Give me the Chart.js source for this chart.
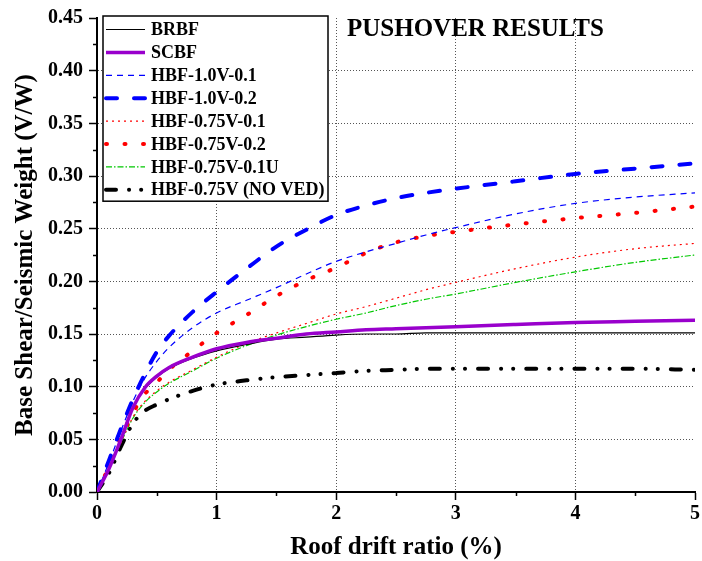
<!DOCTYPE html>
<html>
<head>
<meta charset="utf-8">
<script src="https://cdn.jsdelivr.net/npm/chart.js@4/dist/chart.umd.min.js"></script>
<style>
body { margin: 0; background: #fff; }
</style>
</head>
<body>
<canvas id="Chart1" width="702" height="561"></canvas>
<script>
const drift = [0, 0.1, 0.2, 0.3, 0.4, 0.5, 0.6, 0.8, 1.0, 1.25, 1.5, 1.75, 2, 2.25, 2.5, 2.75, 3, 3.5, 4, 4.5, 5];

// base shear / seismic weight
const brbf        = [0, 0.022, 0.050, 0.080, 0.098, 0.109, 0.117, 0.127, 0.134, 0.140, 0.145, 0.147, 0.149, 0.150, 0.150, 0.151, 0.151, 0.151, 0.151, 0.151, 0.151];
const scbf        = [0, 0.022, 0.050, 0.080, 0.099, 0.110, 0.118, 0.128, 0.136, 0.142, 0.146, 0.150, 0.152, 0.154, 0.155, 0.156, 0.157, 0.159, 0.161, 0.162, 0.163];
const hbf10_01    = [0, 0.028, 0.058, 0.086, 0.108, 0.124, 0.137, 0.156, 0.170, 0.182, 0.194, 0.207, 0.219, 0.228, 0.236, 0.244, 0.251, 0.264, 0.274, 0.280, 0.284];
const hbf10_02    = [0, 0.030, 0.060, 0.088, 0.112, 0.133, 0.148, 0.171, 0.190, 0.212, 0.233, 0.249, 0.263, 0.272, 0.279, 0.284, 0.288, 0.295, 0.302, 0.307, 0.312];
const hbf075_01   = [0, 0.022, 0.047, 0.071, 0.086, 0.096, 0.104, 0.116, 0.128, 0.141, 0.151, 0.160, 0.169, 0.176, 0.184, 0.192, 0.199, 0.212, 0.223, 0.231, 0.236];
const hbf075_02   = [0, 0.024, 0.052, 0.075, 0.093, 0.104, 0.116, 0.134, 0.151, 0.168, 0.186, 0.201, 0.213, 0.227, 0.237, 0.243, 0.247, 0.254, 0.260, 0.265, 0.271];
const hbf075_01u  = [0, 0.022, 0.047, 0.070, 0.085, 0.095, 0.103, 0.115, 0.127, 0.139, 0.149, 0.157, 0.164, 0.170, 0.177, 0.183, 0.188, 0.199, 0.209, 0.218, 0.225];
const hbf075_noved = [0, 0.018, 0.043, 0.065, 0.077, 0.083, 0.088, 0.096, 0.102, 0.106, 0.109, 0.111, 0.113, 0.115, 0.116, 0.117, 0.117, 0.117, 0.117, 0.117, 0.116];

const labels = ['BRBF', 'SCBF', 'HBF-1.0V-0.1', 'HBF-1.0V-0.2', 'HBF-0.75V-0.1', 'HBF-0.75V-0.2', 'HBF-0.75V-0.1U', 'HBF-0.75V (NO VED)'];
const x_minor = [0.5, 1.5, 2.5, 3.5, 4.5];
const y_minor = [0.025, 0.075, 0.125, 0.175, 0.225, 0.275, 0.325, 0.375, 0.425];
const chart_title = 'PUSHOVER RESULTS';

const serif = "'Liberation Serif', 'Times New Roman', serif";

function pts(values) {
    return values.map((v, i) => ({x: drift[i], y: v}));
}

function line(label, values, color, width, dash, cap) {
    return {
        label: label,
        data: pts(values),
        borderColor: color,
        backgroundColor: color,
        borderWidth: width,
        borderDash: dash,
        borderCapStyle: cap || 'butt',
        pointRadius: 0,
        fill: false,
        cubicInterpolationMode: 'monotone'
    };
}

let datasets = [
    line(labels[0], brbf, '#000000', 1.2, []),
    line(labels[1], scbf, '#9900cc', 3.5, []),
    line(labels[2], hbf10_01, '#0000ff', 1.2, [6, 5]),
    line(labels[3], hbf10_02, '#0000ff', 4, [11, 17], 'round'),
    line(labels[4], hbf075_01, '#ff0000', 1.2, [2, 4]),
    line(labels[5], hbf075_02, '#ff0000', 4, [1, 17.5], 'round'),
    line(labels[6], hbf075_01u, '#00c800', 1.2, [6, 2, 1.5, 2]),
    line(labels[7], hbf075_noved, '#000000', 4, [10, 13, 0.1, 12, 0.1, 13], 'round')
];
datasets[1].order = -1;

// legend box inside the plot, title text and minor ticks
const extras = {
    id: 'extras',
    afterDatasetsDraw(chart) {
        const ctx = chart.ctx;
        const area = chart.chartArea;
        const xs = chart.scales.x, ys = chart.scales.y;

        // minor ticks
        ctx.save();
        ctx.strokeStyle = '#000';
        ctx.lineWidth = 1.5;
        ctx.beginPath();
        x_minor.forEach(v => {
            let px = Math.round(xs.getPixelForValue(v)) + 0.5;
            ctx.moveTo(px, ys.bottom);
            ctx.lineTo(px, ys.bottom + 4);
        });
        y_minor.forEach(v => {
            let py = Math.round(ys.getPixelForValue(v)) + 0.5;
            ctx.moveTo(xs.left, py);
            ctx.lineTo(xs.left - 4, py);
        });
        ctx.stroke();
        ctx.restore();

        // legend
        const left = area.left + 6, top = area.top - 2;
        const rowH = 22.9, w = 225, h = 8 * rowH + 2;
        ctx.save();
        ctx.fillStyle = '#fff';
        ctx.fillRect(left, top, w, h);
        ctx.strokeStyle = '#000';
        ctx.lineWidth = 1.5;
        ctx.strokeRect(left, top, w, h);
        ctx.font = 'bold 18px ' + serif;
        ctx.textBaseline = 'middle';
        ctx.textAlign = 'left';
        chart.data.datasets.forEach((ds, i) => {
            let y = top + 13.5 + i * rowH;
            ctx.save();
            ctx.strokeStyle = ds.borderColor;
            ctx.lineWidth = ds.borderWidth;
            ctx.setLineDash(ds.borderDash);
            ctx.lineCap = ds.borderCapStyle;
            ctx.beginPath();
            ctx.moveTo(left + 3, y);
            ctx.lineTo(left + 42, y);
            ctx.stroke();
            ctx.restore();
            ctx.fillStyle = '#000';
            ctx.fillText(ds.label, left + 48, y + 1);
        });

        // title
        ctx.font = 'bold 25px ' + serif;
        ctx.textBaseline = 'alphabetic';
        ctx.fillText(chart_title, area.left + 250, area.top + 18);
        ctx.restore();
    }
};

const data = { datasets: datasets };

const config = {
    type: 'line',
    data: data,
    options: {
        responsive: false,
        animation: false,
        layout: { padding: { top: 15, right: 7, left: 0, bottom: 0 } },
        plugins: {
            legend: { display: false },
            tooltip: { enabled: false }
        },
        scales: {
            x: {
                type: 'linear',
                min: 0,
                max: 5,
                afterFit: (scale) => { scale.height = 69; },
                ticks: {
                    stepSize: 1,
                    color: '#000',
                    padding: 2,
                    maxRotation: 0,
                    font: { family: serif, size: 20, weight: 'bold' }
                },
                grid: {
                    color: (c) => (c.tick && c.tick.value > 0 && c.tick.value < 5) ? '#555' : 'rgba(0,0,0,0)',
                    tickColor: '#000',
                    tickLength: 8,
                    tickWidth: 1.5,
                    tickBorderDash: [],
                    lineWidth: 1
                },
                border: { display: true, color: '#000', width: 2, dash: [1, 2] },
                title: {
                    display: true,
                    text: 'Roof drift ratio (%)',
                    color: '#000',
                    padding: { top: 0, bottom: 0 },
                    font: { family: serif, size: 25, weight: 'bold', lineHeight: 1.1 }
                }
            },
            y: {
                min: 0,
                max: 0.45,
                afterFit: (scale) => { scale.width = 97; },
                ticks: {
                    stepSize: 0.05,
                    color: '#000',
                    padding: 6,
                    callback: (v) => Number(v).toFixed(2),
                    font: { family: serif, size: 20, weight: 'bold' }
                },
                grid: {
                    color: (c) => (c.tick && c.tick.value > 0.001 && c.tick.value < 0.44) ? '#555' : 'rgba(0,0,0,0)',
                    tickColor: '#000',
                    tickLength: 8,
                    tickWidth: 1.5,
                    tickBorderDash: [],
                    lineWidth: 1
                },
                border: { display: true, color: '#000', width: 2, dash: [1, 2] },
                title: {
                    display: true,
                    text: 'Base Shear/Seismic Weight (V/W)',
                    color: '#000',
                    padding: { top: 11, bottom: 0 },
                    font: { family: serif, size: 25, weight: 'bold', lineHeight: 1.2 }
                }
            }
        }
    },
    plugins: [extras]
};

new Chart(document.getElementById('Chart1'), config);
</script>
</body>
</html>
